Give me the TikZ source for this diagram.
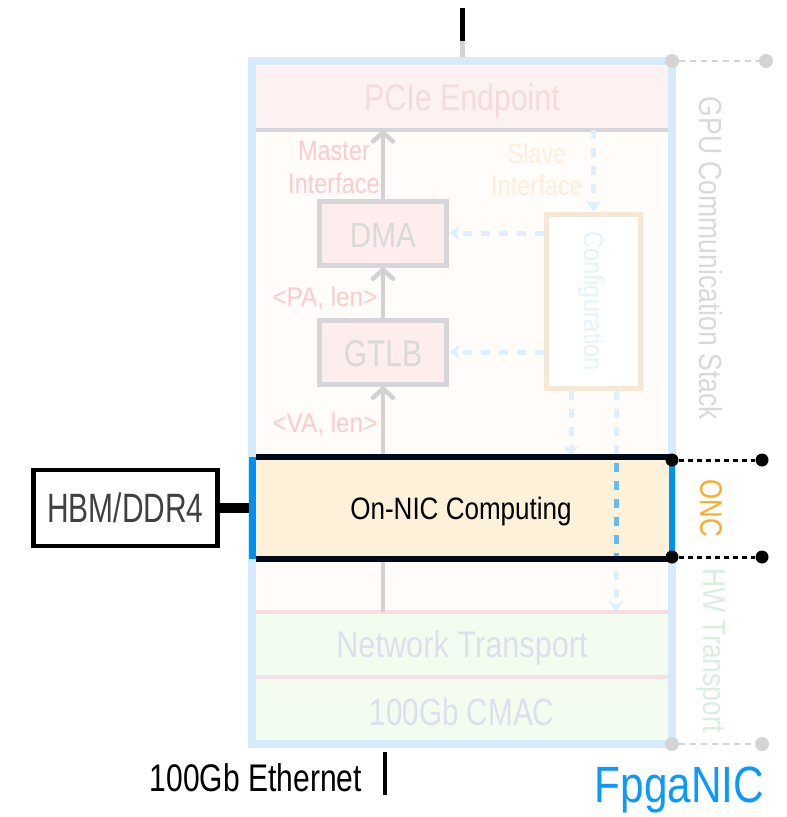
\documentclass[tikz,border=0pt]{standalone}
\usepackage{fontspec}
\usepackage{graphicx}
\setmainfont{Liberation Sans}
\usetikzlibrary{arrows.meta}
\newcommand\tx[3]{\fontsize{#1}{#1}\selectfont\scalebox{#2}[1]{#3}}
\definecolor{frameblue}{HTML}{D5EBFB}
\definecolor{bgin}{HTML}{FFFCFA}
\definecolor{pciefill}{HTML}{FDF1F1}
\definecolor{pcietext}{HTML}{F5DCDC}
\definecolor{sepgray}{HTML}{D4D6DA}
\definecolor{boxfill}{HTML}{FDEDED}
\definecolor{boxdraw}{HTML}{D6D6DA}
\definecolor{boxtext}{HTML}{D9D9D9}
\definecolor{arrgray}{HTML}{D2D2D5}
\definecolor{mastertext}{HTML}{FFCACA}
\definecolor{slavetext}{HTML}{FDEED8}
\definecolor{cfgdraw}{HTML}{F6E8D4}
\definecolor{cfgtext}{HTML}{E3F2FF}
\definecolor{dashlight}{HTML}{DDF0FF}
\definecolor{dashdark}{HTML}{66BBEE}
\definecolor{oncfill}{HTML}{FEF1D9}
\definecolor{oncblack}{HTML}{000A1A}
\definecolor{oncblue}{HTML}{0090F0}
\definecolor{netfill}{HTML}{F3FDEF}
\definecolor{netpink}{HTML}{FADCE4}
\definecolor{nettext}{HTML}{DDE0EC}
\definecolor{stacktext}{HTML}{D9D9D9}
\definecolor{dotgray}{HTML}{D4D4D4}
\definecolor{onclabel}{HTML}{FFAA22}
\definecolor{hwtext}{HTML}{D8EEDF}
\definecolor{fpgablue}{HTML}{0A99FF}
\definecolor{hbmtext}{HTML}{404040}
\begin{document}
\begin{tikzpicture}[x=1pt,y=-1pt,
  region/.style={rectangle, inner sep=0pt, minimum width=412pt},
  txt/.style={inner sep=0pt},
  blockbox/.style={rectangle, draw=boxdraw, fill=boxfill, line width=5pt, inner sep=0pt,
    minimum width=127pt, minimum height=64pt},
  garrow/.style={draw=arrgray, line width=4.5pt, -{Straight Barb[length=9pt,width=20pt,round]}},
  darrow/.style={draw=dashlight, line width=5pt, dash pattern=on 9pt off 9pt, -{Stealth[length=11pt,width=15pt]}},
  smalllbl/.style={inner sep=0pt, align=center},
  sidelbl/.style={inner sep=0pt, rotate=-90},
  gdot/.style={circle, fill=dotgray, inner sep=0pt, minimum size=14pt},
  bdot/.style={circle, fill=black, inner sep=0pt, minimum size=13pt},
  gline/.style={draw=dotgray, line width=2.5pt, dash pattern=on 6pt off 5pt},
  bline/.style={draw=black, line width=3pt, dash pattern=on 5pt off 4pt}]
\fill[white] (0,0) rectangle (787,817);
\useasboundingbox (0,0) rectangle (787,817);

% background regions
\node[region, fill=bgin, minimum height=674pt] (inner) at (462,403) {};
\node[region, fill=pciefill, minimum height=64pt] (pcie) at (462,98) {};
\node[txt, text=pcietext] (pciet) at (462,101) {\tx{37}{0.82}{PCIe Endpoint}};
\draw[sepgray, line width=4pt] (pcie.south west) -- (pcie.south east);
\node[region, fill=netfill, minimum height=65pt] (net) at (462,644.5) {};
\node[txt, text=nettext] (nett) at (462,648) {\tx{37}{0.83}{Network Transport}};
\node[region, fill=netfill, minimum height=63pt] (cmac) at (462,708.5) {};
\node[txt, text=nettext] (cmact) at (462,712) {\tx{38}{0.78}{100Gb CMAC}};
\draw[netpink, line width=4pt] (net.north west) -- (net.north east);
\draw[netpink, line width=4pt] (net.south west) -- (net.south east);

% outer frame
\node[rectangle, draw=frameblue, line width=8pt, inner sep=0pt, minimum width=420pt, minimum height=683pt] (nic) at (462,402.5) {};

% wires
\coordinate (topend) at (462,8);
\coordinate (topmid) at (462,41);
\draw[arrgray, line width=5pt] (topmid) -- (nic.north);
\draw[black, line width=5pt] (topend) -- (topmid);
\coordinate (ethtop) at (385,752);
\coordinate (ethbot) at (385,795);
\draw[black, line width=4pt] (ethtop) -- (ethbot);
\node[txt, anchor=east] (eth) at (362,778) {\tx{38.5}{0.78}{100Gb Ethernet}};

% blocks
\node[blockbox] (dma) at (383,233) {};
\node[txt, text=boxtext] (dmat) at (383,235) {\tx{35}{0.85}{DMA}};
\node[blockbox] (gtlb) at (383,352) {};
\node[txt, text=boxtext] (gtlbt) at (383,354) {\tx{37}{0.81}{GTLB}};
\node[rectangle, draw=cfgdraw, fill=white, line width=5pt, inner sep=0pt, minimum width=94pt, minimum height=174pt] (cfg) at (593.5,301) {};
\node[sidelbl, text=cfgtext] (cfgt) at (591,301) {\tx{28}{0.84}{Configuration}};

\node[smalllbl, text=mastertext] (mast1) at (334,151) {\tx{28}{0.84}{Master}};
\node[smalllbl, text=mastertext] (mast2) at (334,184) {\tx{28}{0.84}{Interface}};
\node[smalllbl, text=slavetext] (slave1) at (537,153) {\tx{28}{0.84}{Slave}};
\node[smalllbl, text=slavetext] (slave2) at (537,186) {\tx{28}{0.84}{Interface}};
\node[smalllbl, text=mastertext] (pa) at (325,298) {\tx{27}{0.9}{<PA, len>}};
\node[smalllbl, text=mastertext] (va) at (325,424) {\tx{27}{0.9}{<VA, len>}};

% ONC box
\node[rectangle, fill=oncfill, inner sep=0pt, minimum width=420pt, minimum height=102pt] (onc) at (462,508) {};

% gray arrows
\draw[garrow] (dma.north) -- (dma.north |- pcie.south);
\draw[garrow] (gtlb.north) -- (dma.south);
\draw[garrow] (gtlb.south |- onc.north) -- (gtlb.south);
\draw[arrgray, line width=4.5pt] (gtlb.south |- onc.south) -- (gtlb.south |- net.north);

% dashed arrows
\draw[darrow] (cfg.north |- pcie.south) -- (cfg.north);
\draw[darrow] (cfg.west |- dma.east) -- (dma.east);
\draw[darrow] (cfg.west |- gtlb.east) -- (gtlb.east);
\draw[darrow] ([xshift=-22.5pt]cfg.south) -- ([xshift=-22.5pt]cfg.south |- onc.north);
\draw[darrow] ([xshift=22.5pt]cfg.south) -- ([xshift=22.5pt]cfg.south |- net.north);

% redraw ONC over lower dashed area
\fill[oncfill] (onc.north west) rectangle (onc.south east);
\node[txt] (onct) at (461,511) {\tx{31}{0.84}{On-NIC Computing}};
\begin{scope}
  \clip (onc.north west) rectangle (onc.south east);
  \draw[dashdark, line width=5pt, dash pattern=on 9pt off 9pt] ([xshift=22.5pt]cfg.south) -- ([xshift=22.5pt]cfg.south |- net.north);
\end{scope}
\draw[oncblue, line width=7pt] ([xshift=0.5pt]onc.north west) -- ([xshift=0.5pt]onc.south west);
\draw[oncblue, line width=6pt] (onc.north east) -- (onc.south east);
\draw[oncblack, line width=5.5pt] ([xshift=4pt]onc.north west) -- (onc.north east);
\draw[oncblack, line width=5.5pt] ([xshift=4pt]onc.south west) -- (onc.south east);

% HBM
\node[rectangle, draw=black, line width=4.5pt, fill=white, inner sep=0pt, minimum width=184pt, minimum height=76pt] (hbm) at (125.5,508) {};
\node[txt, text=hbmtext] (hbmt) at (125.5,508) {\tx{41}{0.73}{HBM/DDR4}};
\draw[black, line width=10pt] (hbm.east) -- ([xshift=-3pt]onc.west);

% right side annotations
\node[gdot] (g1) at (672,61) {};
\node[gdot] (g2) at (766,61) {};
\draw[gline] (g1) -- (g2);
\node[gdot] (g3) at (672,744) {};
\node[gdot] (g4) at (762,744) {};
\draw[gline] (g3) -- (g4);
\node[bdot] (b1) at (672,460) {};
\node[bdot] (b2) at (762,460) {};
\draw[bline] (b1) -- (b2);
\node[bdot] (b3) at (672,557) {};
\node[bdot] (b4) at (762,557) {};
\draw[bline] (b3) -- (b4);

\node[sidelbl, text=stacktext] (stack) at (711,258.5) {\tx{32}{0.83}{GPU Communication Stack}};
\node[sidelbl, text=onclabel] (onclbl) at (711,508.5) {\tx{31}{0.83}{ONC}};
\node[sidelbl, text=hwtext] (hw) at (711,650.5) {\tx{32}{0.83}{HW Transport}};

\node[txt, text=fpgablue] (fpga) at (679.5,790) {\tx{51}{0.83}{FpgaNIC}};
\end{tikzpicture}
\end{document}
